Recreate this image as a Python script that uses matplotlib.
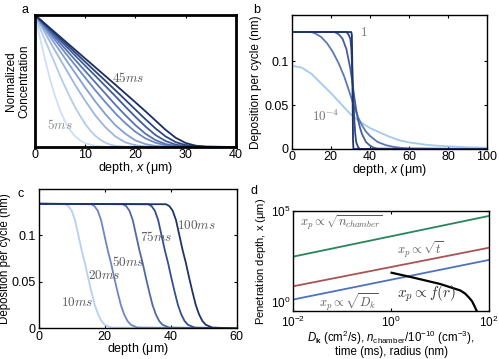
import numpy as np
import matplotlib
matplotlib.use("Agg")
import matplotlib.pyplot as plt
from matplotlib.ticker import NullLocator

plt.rcParams['font.family'] = ['Liberation Sans', 'DejaVu Sans']
plt.rcParams['mathtext.fontset'] = 'custom'
plt.rcParams['mathtext.rm'] = 'Liberation Sans'
plt.rcParams['mathtext.it'] = 'Liberation Sans:italic'
plt.rcParams['mathtext.bf'] = 'Liberation Sans:bold'
plt.rcParams['font.size'] = 9

# ---- panel a: normalized concentration, 5ms ... 45ms
a_x_05 = [0, 1, 2, 3, 4, 5, 6, 7, 8, 9, 10, 12, 14, 40]
a_y_05 = [1, 0.828, 0.663, 0.513, 0.384, 0.278, 0.192, 0.127, 0.081, 0.050, 0.029, 0.009, 0.002, 0]
a_x_10 = [0, 1, 2, 3, 4, 5, 6, 7, 8, 9, 10, 11, 12, 13, 14, 15, 16, 18, 40]
a_y_10 = [1, 0.90, 0.81, 0.72, 0.63, 0.54, 0.455, 0.375, 0.30, 0.235, 0.175, 0.125, 0.085, 0.055, 0.033, 0.018, 0.009, 0.002, 0]
a_x_15 = [0, 2, 4, 6, 8, 10, 12, 14, 16, 18, 20, 22, 40]
a_y_15 = [1, 0.865, 0.73, 0.60, 0.47, 0.35, 0.24, 0.15, 0.08, 0.035, 0.013, 0.004, 0]
a_x_20 = [0, 2, 4, 6, 8, 10, 12, 14, 16, 18, 20, 22, 24, 26, 40]
a_y_20 = [1, 0.89, 0.78, 0.67, 0.56, 0.45, 0.345, 0.25, 0.165, 0.10, 0.05, 0.022, 0.008, 0.002, 0]
a_x_25 = [0, 2, 4, 6, 8, 10, 12, 14, 16, 18, 20, 22, 24, 26, 28, 40]
a_y_25 = [1, 0.905, 0.81, 0.715, 0.62, 0.525, 0.43, 0.34, 0.255, 0.18, 0.115, 0.065, 0.032, 0.013, 0.004, 0]
a_x_30 = [0, 2, 4, 6, 8, 10, 12, 14, 16, 18, 20, 22, 24, 26, 28, 30, 40]
a_y_30 = [1, 0.915, 0.83, 0.745, 0.66, 0.575, 0.49, 0.405, 0.32, 0.24, 0.165, 0.10, 0.052, 0.022, 0.008, 0.002, 0]
a_x_35 = [0, 2, 4, 6, 8, 10, 12, 14, 16, 18, 20, 22, 24, 26, 28, 30, 32, 40]
a_y_35 = [1, 0.923, 0.846, 0.77, 0.693, 0.616, 0.54, 0.462, 0.385, 0.305, 0.228, 0.155, 0.09, 0.045, 0.018, 0.006, 0.001, 0]
a_x_40 = [0, 2, 4, 6, 8, 10, 12, 14, 16, 18, 20, 22, 24, 26, 28, 30, 32, 34, 40]
a_y_40 = [1, 0.93, 0.858, 0.787, 0.716, 0.645, 0.573, 0.502, 0.43, 0.357, 0.283, 0.21, 0.14, 0.08, 0.037, 0.014, 0.004, 0.001, 0]
a_x_45 = [0, 2, 4, 6, 8, 10, 12, 14, 16, 18, 20, 22, 24, 26, 28, 30, 32, 34, 40]
a_y_45 = [1, 0.934, 0.868, 0.802, 0.736, 0.67, 0.604, 0.538, 0.472, 0.405, 0.338, 0.27, 0.20, 0.13, 0.07, 0.03, 0.01, 0.003, 0]

# ---- panel b: deposition per cycle for sticking coeff 1e-4 ... 1
b_x_e4 = [0, 5, 10, 15, 20, 25, 30, 35, 40, 45, 50, 55, 60, 70, 80, 90, 100]
b_y_e4 = [0.095, 0.093, 0.086, 0.075, 0.064, 0.052, 0.040, 0.031, 0.024, 0.019, 0.014, 0.010, 0.0075, 0.0045, 0.003, 0.002, 0.0015]
b_x_e3 = [0, 10, 12, 15, 18, 21, 24, 27, 30, 32, 34, 36, 38, 40, 44, 48, 52, 56, 60, 100]
b_y_e3 = [0.1335, 0.1335, 0.132, 0.128, 0.121, 0.111, 0.098, 0.082, 0.062, 0.048, 0.036, 0.027, 0.020, 0.015, 0.008, 0.0045, 0.0025, 0.0013, 0.0006, 0]
b_x_e2 = [0, 22, 24, 26, 28, 30, 31, 32, 33, 34, 35, 36, 38, 40, 42, 44, 100]
b_y_e2 = [0.1335, 0.1335, 0.131, 0.126, 0.114, 0.092, 0.077, 0.060, 0.045, 0.033, 0.024, 0.017, 0.008, 0.004, 0.0015, 0.0005, 0]
b_x_e1 = [0, 28, 29, 30, 30.5, 31, 31.5, 32, 32.5, 33, 34, 35, 100]
b_y_e1 = [0.1335, 0.1335, 0.131, 0.126, 0.115, 0.09, 0.06, 0.035, 0.018, 0.008, 0.002, 0, 0]
b_x_e0 = [0, 30.5, 30.8, 31, 31.2, 31.4, 31.6, 100]
b_y_e0 = [0.1335, 0.1335, 0.13, 0.10, 0.05, 0.01, 0, 0]

# ---- panel c: deposition for 10, 20, 50, 75, 100 ms
c_y = [0.1335, 0.133, 0.131, 0.126, 0.116, 0.100, 0.084, 0.070, 0.054, 0.039, 0.025, 0.015, 0.008, 0.004, 0.001, 0]
c_x_10 = [0, 8, 9, 10, 11, 12, 13, 14, 15, 16, 17, 18, 19, 20, 22, 60]
c_x_20 = [0, 15.9, 16.9, 17.9, 18.9, 19.9, 20.9, 21.9, 22.9, 23.9, 24.9, 25.9, 26.9, 27.9, 29.9, 60]
c_x_50 = [0, 25.5, 26.5, 27.5, 28.5, 29.5, 30.5, 31.5, 32.5, 33.5, 34.5, 35.5, 36.5, 37.5, 39.5, 60]
c_x_75 = [0, 33.2, 34.2, 35.2, 36.2, 37.2, 38.2, 39.2, 40.2, 41.2, 42.2, 43.2, 44.2, 45.2, 47.2, 60]
c_x_100 = [0, 38.6, 39.6, 40.6, 41.6, 42.6, 43.6, 44.6, 45.6, 46.6, 47.6, 48.6, 49.6, 50.6, 52.6, 60]

# ---- panel d: penetration depth scalings
d_x_lin = [1e-2, 1e2]
d_y_n = [525, 55000]
d_y_t = [17.7, 1450]
d_y_D = [3.9, 360]
d_x_r = [1.02, 2.8, 10, 25.7, 32, 38, 45, 51, 56]
d_y_r = [83, 48, 23, 11, 7.9, 5.2, 3.2, 1.74, 1.05]

fig = plt.figure(figsize=(4.99, 3.59), dpi=100)

def matlab_box(ax, lw=1.0, size=9):
    ax.tick_params(direction='in', top=True, right=True, length=2.5, width=0.8, pad=2, labelsize=size)
    ax.tick_params(axis='x', pad=1.5)
    for s in ax.spines.values():
        s.set_linewidth(lw)

# panel a
ax = fig.add_axes([0.0701, 0.5905, 0.4028, 0.3677])
a_curves = [(a_x_05, a_y_05), (a_x_10, a_y_10), (a_x_15, a_y_15), (a_x_20, a_y_20),
            (a_x_25, a_y_25), (a_x_30, a_y_30), (a_x_35, a_y_35), (a_x_40, a_y_40), (a_x_45, a_y_45)]
ramp = [np.array([0.80, 0.88, 0.97]), np.array([0.42, 0.54, 0.78]), np.array([0.10, 0.18, 0.40])]
for i, (xs, ys) in enumerate(a_curves):
    f = 2 * i / (len(a_curves) - 1)
    k = min(int(f), 1)
    g = f - k
    ax.plot(xs, ys, color=tuple(ramp[k] * (1 - g) + ramp[k + 1] * g), lw=1.3)
ax.set_xlim(0, 40)
ax.set_ylim(0, 1)
ax.set_xticks([0, 10, 20, 30, 40])
ax.set_yticks([])
matlab_box(ax, lw=2.0)
ax.set_xlabel(r'depth, $x$ ($\mathrm{\mu}$m)', labelpad=-1)
ax.set_ylabel('Normalized\nConcentration', labelpad=3, fontsize=8.5)
ax.text(15.3, 0.52, r'$45ms$', math_fontfamily='cm', fontsize=9.5, color='0.35', ha='left', va='center')
ax.text(2.3, 0.167, r'$5ms$', math_fontfamily='cm', fontsize=9.5, color='0.55', ha='left', va='center')
fig.text(0.044, 0.988, 'a', fontsize=9, va='top')

# panel b
ax = fig.add_axes([0.5846, 0.585, 0.3914, 0.3733])
b_curves = [(b_x_e4, b_y_e4, (0.64, 0.79, 0.95)), (b_x_e3, b_y_e3, (0.36, 0.47, 0.72)),
            (b_x_e2, b_y_e2, (0.27, 0.37, 0.63)), (b_x_e1, b_y_e1, (0.19, 0.29, 0.53)),
            (b_x_e0, b_y_e0, (0.12, 0.20, 0.42))]
for xs, ys, c in b_curves:
    ax.plot(xs, ys, color=c, lw=1.3)
ax.set_xlim(0, 100)
ax.set_ylim(0, 0.153)
ax.set_xticks([0, 20, 40, 60, 80, 100])
ax.set_yticks([0, 0.05, 0.1])
ax.set_yticklabels(['0', '0.05', '0.1'])
matlab_box(ax)
ax.set_xlabel(r'depth, $x$ ($\mathrm{\mu}$m)', labelpad=-1)
ax.set_ylabel('Deposition per cycle (nm)', labelpad=2, fontsize=8.5)
ax.text(36.7, 0.133, r'$1$', math_fontfamily='cm', fontsize=9.5, color='0.45', ha='center', va='center')
ax.text(10.2, 0.037, r'$10^{-4}$', math_fontfamily='cm', fontsize=9.5, color='0.45', ha='left', va='center')
fig.text(0.508, 0.988, 'b', fontsize=9, va='top')

# panel c
ax = fig.add_axes([0.0776, 0.085, 0.3968, 0.3877])
c_curves = [(c_x_10, (0.70, 0.82, 0.96)), (c_x_20, (0.42, 0.53, 0.77)), (c_x_50, (0.30, 0.41, 0.66)),
            (c_x_75, (0.20, 0.31, 0.57)), (c_x_100, (0.12, 0.20, 0.42))]
for xs, c in c_curves:
    ax.plot(xs, c_y, color=c, lw=1.3)
ax.set_xlim(0, 60)
ax.set_ylim(0, 0.149)
ax.set_xticks([0, 20, 40, 60])
ax.set_yticks([0, 0.05, 0.1])
ax.set_yticklabels(['0', '0.05', '0.1'])
matlab_box(ax)
ax.set_xlabel(r'depth ($\mathrm{\mu}$m)', labelpad=-1)
ax.set_ylabel('Deposition per cycle (nm)', labelpad=0.5, fontsize=8.3)
for (tx, ty, s) in [(6.7, 0.028, '10ms'), (14.9, 0.057, '20ms'), (22.3, 0.071, '50ms'),
                    (30.8, 0.0976, '75ms'), (42.0, 0.11, '100ms')]:
    ax.text(tx, ty, '$' + s + '$', math_fontfamily='cm', fontsize=9.5, color='0.35', ha='left', va='center')
fig.text(0.036, 0.477, 'c', fontsize=9, va='top')

# panel d
ax = fig.add_axes([0.5878, 0.1326, 0.3922, 0.2805])
ax.plot(d_x_lin, d_y_n, color=(0.16, 0.52, 0.35), lw=1.3)
ax.plot(d_x_lin, d_y_t, color=(0.66, 0.33, 0.33), lw=1.3)
ax.plot(d_x_lin, d_y_D, color=(0.30, 0.45, 0.74), lw=1.3)
ax.plot(d_x_r, d_y_r, color='k', lw=1.6)
ax.set_xscale('log')
ax.set_yscale('log')
ax.set_xlim(1e-2, 1e2)
ax.set_ylim(1, 1e5)
ax.set_xticks([1e-2, 1, 1e2])
ax.set_yticks([1, 1e5])
ax.xaxis.set_minor_locator(NullLocator())
ax.yaxis.set_minor_locator(NullLocator())
matlab_box(ax, size=8.5)
ax.tick_params(axis='x', pad=2.5)
ax.yaxis.get_major_ticks()[0].label1.set_va('bottom')
ax.set_xlabel('$D_\\mathbf{k}$ (cm$^2$/s), $n_\\mathrm{chamber}$/10$^{-10}$ (cm$^{-3}$),\ntime (ms), radius (nm)',
              labelpad=-1, linespacing=0.95, fontsize=8.3)
ax.set_ylabel('Penetration depth, x ($\\mathrm{\\mu}$m)', labelpad=2, fontsize=8)
ax.text(0.035, 0.88, r'$x_p \propto \sqrt{n_{chamber}}$', transform=ax.transAxes, math_fontfamily='cm',
        fontsize=9, color='0.35', ha='left', va='center')
ax.text(0.53, 0.61, r'$x_p \propto \sqrt{t}$', transform=ax.transAxes, math_fontfamily='cm',
        fontsize=9, color='0.35', ha='left', va='center')
ax.text(0.13, 0.096, r'$x_p \propto \sqrt{D_k}$', transform=ax.transAxes, math_fontfamily='cm',
        fontsize=9, color='0.35', ha='left', va='center')
ax.text(0.53, 0.175, r'$x_p \propto f(r)$', transform=ax.transAxes, math_fontfamily='cm',
        fontsize=11, color='0.2', ha='left', va='center')
fig.text(0.503, 0.485, 'd', fontsize=9, va='top')

fig.savefig('out.png', dpi=100)
